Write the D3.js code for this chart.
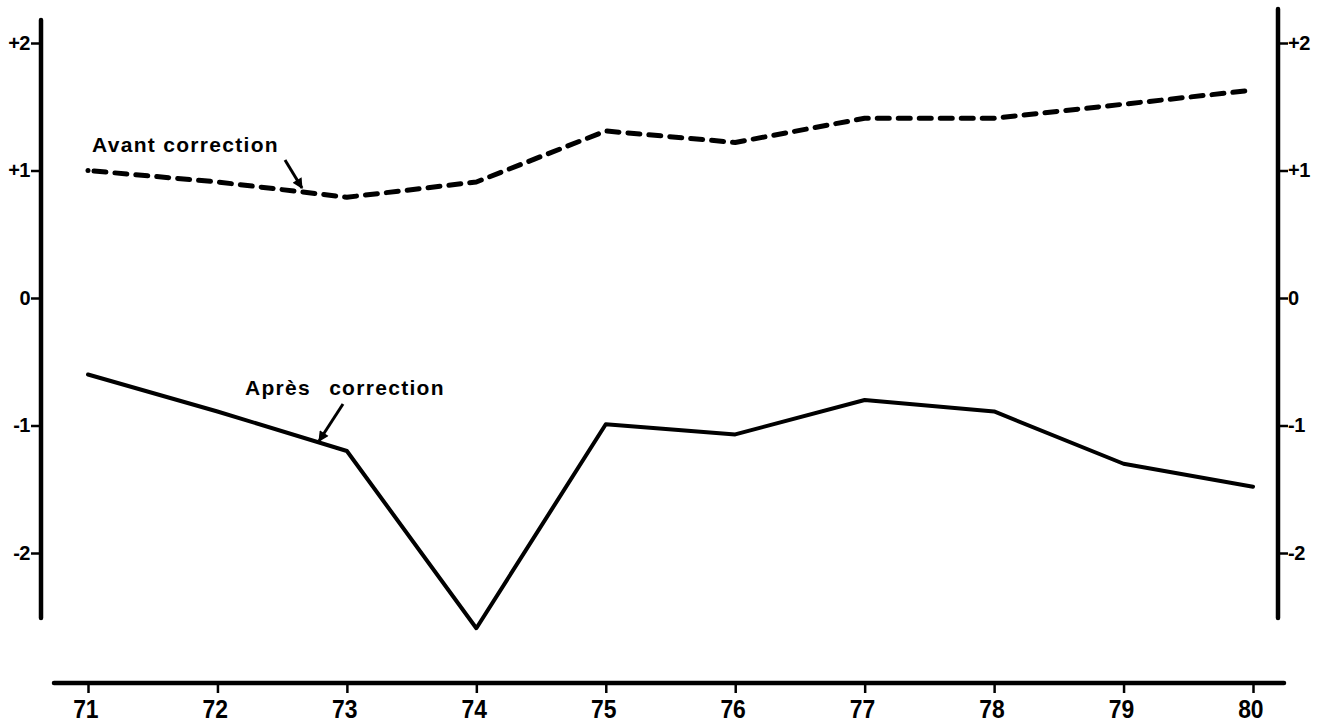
<!DOCTYPE html>
<html>
<head>
<meta charset="utf-8">
<script src="https://cdn.jsdelivr.net/npm/d3@7"></script>
<style>
  html, body { margin: 0; padding: 0; background: #fff; }
  svg { display: block; }
</style>
</head>
<body>
<svg id="chart" width="1322" height="724"></svg>
<script>
// ---- data ----
const years = [71, 72, 73, 74, 75, 76, 77, 78, 79, 80];
const avantCorrection = [1.0, 0.91, 0.79, 0.91, 1.31, 1.22, 1.41, 1.41, 1.52, 1.63];
const apresCorrection = [-0.60, -0.89, -1.20, -2.59, -0.99, -1.07, -0.80, -0.89, -1.30, -1.48];
const yTickValues = [2, 1, 0, -1, -2];
const yTickLabels = ["+2", "+1", "0", "-1", "-2"];
const xTickLabels = ["71", "72", "73", "74", "75", "76", "77", "78", "79", "80"];
const labelAvant = "Avant correction";
const labelApresWords = ["Après", "correction"];

// ---- layout ----
const svg = d3.select("#chart");
const x = d3.scaleLinear().domain([71, 80]).range([88, 1253]);
const y = d3.scaleLinear().domain([-2, 2]).range([553, 43]);
const leftX = 41, rightX = 1278, axisTop = 20, axisTopR = 9, axisBottom = 618;
const xAxisY = 683, xAxisStart = 54, xAxisEnd = 1284;

const ink = "#000";

// left axis
const gL = svg.append("g").attr("transform", `translate(${leftX},0)`);
gL.call(d3.axisLeft(y).tickValues(yTickValues).tickSize(10).tickPadding(1)
  .tickFormat((d, i) => yTickLabels[i]));
gL.select(".domain").remove();
gL.append("line").attr("x1", 0).attr("x2", 0).attr("y1", axisTop).attr("y2", axisBottom)
  .attr("stroke", ink).attr("stroke-width", 4.5).attr("stroke-linecap", "round");

// right axis
const gR = svg.append("g").attr("transform", `translate(${rightX},0)`);
gR.call(d3.axisRight(y).tickValues(yTickValues).tickSize(10).tickPadding(0)
  .tickFormat((d, i) => yTickLabels[i]));
gR.select(".domain").remove();
gR.append("line").attr("x1", 0).attr("x2", 0).attr("y1", axisTopR).attr("y2", axisBottom)
  .attr("stroke", ink).attr("stroke-width", 4.5).attr("stroke-linecap", "round");

[gL, gR].forEach(g => {
  g.attr("font-size", null);
  g.selectAll(".tick line").attr("stroke", ink).attr("stroke-width", 2.5);
  g.selectAll(".tick text").attr("fill", ink)
    .style("font-family", "'Liberation Sans', Arial, sans-serif")
    .style("font-weight", "bold").style("font-size", "20px")
    .style("letter-spacing", "-0.5px");
});

// x axis
const gX = svg.append("g").attr("transform", `translate(0,${xAxisY})`);
gX.call(d3.axisBottom(x).tickValues(years).tickSize(10).tickPadding(6.5)
  .tickFormat((d, i) => xTickLabels[i]));
gX.select(".domain").remove();
gX.append("line").attr("x1", xAxisStart).attr("x2", xAxisEnd).attr("y1", 0).attr("y2", 0)
  .attr("stroke", ink).attr("stroke-width", 4.5).attr("stroke-linecap", "round");
gX.selectAll(".tick line").attr("stroke", ink).attr("stroke-width", 2.5);
gX.selectAll(".tick text").attr("fill", ink).attr("dx", -3)
  .attr("transform", "scale(0.88,1)")
  .style("font-family", "'Liberation Sans', Arial, sans-serif")
  .style("font-weight", "bold").style("font-size", "26px");

// lines
const line = d3.line().x((d, i) => x(years[i])).y(d => y(d));

svg.append("path").datum(avantCorrection)
  .attr("d", line).attr("fill", "none").attr("stroke", ink)
  .attr("stroke-width", 5).attr("stroke-dasharray", "12 9")
  .attr("stroke-dashoffset", -6)
  .attr("stroke-linecap", "round").attr("stroke-linejoin", "round");
svg.append("circle").attr("cx", x(years[0])).attr("cy", y(avantCorrection[0]))
  .attr("r", 2.5).attr("fill", ink);

svg.append("path").datum(apresCorrection)
  .attr("d", line).attr("fill", "none").attr("stroke", ink)
  .attr("stroke-width", 4).attr("stroke-linejoin", "round").attr("stroke-linecap", "round");

// annotations
const txtStyle = sel => sel.attr("fill", ink)
  .style("font-family", "'Liberation Sans', Arial, sans-serif")
  .style("font-weight", "bold").style("font-size", "21px")
  .style("letter-spacing", "1.3px");

svg.append("text").attr("x", 92).attr("y", 152).text(labelAvant).call(txtStyle);
const tA = svg.append("text").attr("x", 245).attr("y", 395).call(txtStyle);
tA.append("tspan").text(labelApresWords[0]);
tA.append("tspan").attr("x", 328).text(" " + labelApresWords[1]).attr("dx", -6);

// arrows
const defs = svg.append("defs");
defs.append("marker").attr("id", "ah").attr("viewBox", "0 0 10 10")
  .attr("refX", 9).attr("refY", 5).attr("markerWidth", 4.5).attr("markerHeight", 3.5)
  .attr("markerUnits", "strokeWidth").attr("orient", "auto")
  .append("path").attr("d", "M0,0 L10,5 L0,10 z").attr("fill", ink);

svg.append("line").attr("x1", 285).attr("y1", 160).attr("x2", 302).attr("y2", 188)
  .attr("stroke", ink).attr("stroke-width", 3).attr("marker-end", "url(#ah)");
svg.append("line").attr("x1", 343).attr("y1", 404).attr("x2", 319).attr("y2", 441)
  .attr("stroke", ink).attr("stroke-width", 3).attr("marker-end", "url(#ah)");
</script>
</body>
</html>
